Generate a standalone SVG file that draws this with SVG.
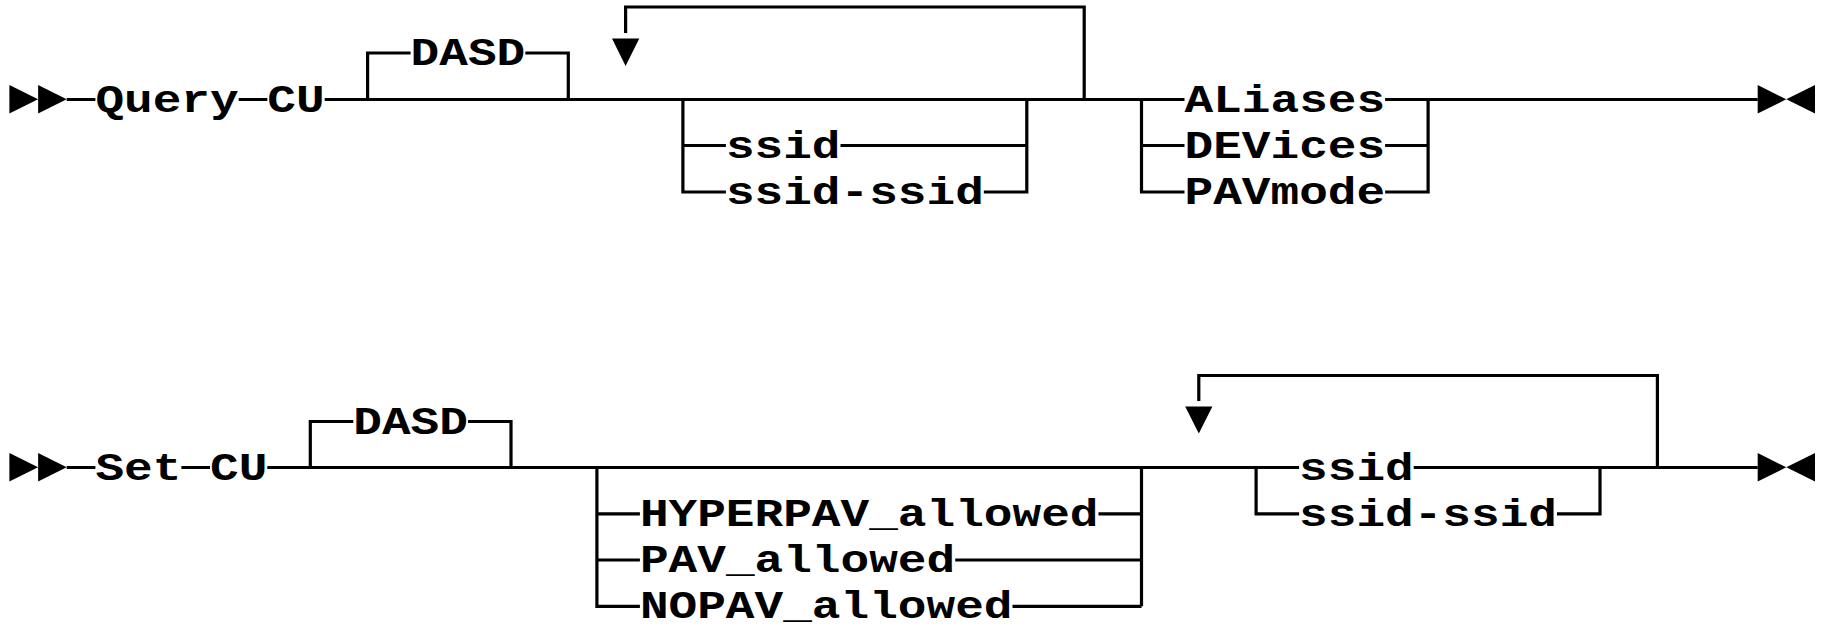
<svg xmlns="http://www.w3.org/2000/svg" width="1828" height="630" viewBox="0 0 1828 630">
<style>
.t{font-family:"Liberation Mono","Courier New",monospace;font-weight:bold;font-size:39px;fill:#000}
.c{fill:none;stroke:#000;stroke-width:3.2;stroke-linejoin:miter}
.a{fill:#000;stroke:none}
</style>
<rect width="1828" height="630" fill="#fff"/>
<g id="connectors">
  <path class="c" d="M66.7,99.5H95.4M238.7,99.5H267.3M324.7,99.5H1184.5M1385.1,99.5H1757.7"/>
  <path class="c" d="M367.6,99.5V53H410.6M525.3,53H568.3V99.5"/>
  <path class="c" d="M625.6,33V7H1084.2V99.5"/>
  <path class="c" d="M682.9,99.5V192H725.9M682.9,145.5H725.9M840.5,145.5H1026.8M983.8,192H1026.8V99.5"/>
  <path class="c" d="M1141.5,99.5V192H1184.5M1141.5,145.5H1184.5M1385.1,145.5H1428.1M1385.1,192H1428.1V99.5"/>
  <path class="c" d="M66.7,467.5H95.4M181.4,467.5H210M267.3,467.5H1299.1M1413.7,467.5H1757.7"/>
  <path class="c" d="M310.3,467.5V421.5H353.3M468,421.5H511V467.5"/>
  <path class="c" d="M596.9,467.5V606.3H639.9M596.9,513.8H639.9M596.9,560H639.9M1098.5,513.8H1141.5M955.2,560H1141.5M1012.5,606.3H1141.5M1141.5,467.5V606.3"/>
  <path class="c" d="M1198.8,401V375.5H1657.4V467.5"/>
  <path class="c" d="M1256.1,467.5V513.8H1299.1M1557,513.8H1600V467.5"/>
  <polygon class="a" points="9.4,85 38.1,99.3 9.4,113.5"/>
  <polygon class="a" points="38.1,85 66.7,99.3 38.1,113.5"/>
  <polygon class="a" points="1757.7,85 1786.3,99.3 1757.7,113.5"/>
  <polygon class="a" points="1815,85 1786.3,99.3 1815,113.5"/>
  <polygon class="a" points="612,38.5 639.3,38.5 625.6,66"/>
  <polygon class="a" points="9.4,453 38.1,467.3 9.4,481.5"/>
  <polygon class="a" points="38.1,453 66.7,467.3 38.1,481.5"/>
  <polygon class="a" points="1757.7,453 1786.3,467.3 1757.7,481.5"/>
  <polygon class="a" points="1815,453 1786.3,467.3 1815,481.5"/>
  <polygon class="a" points="1185.2,406.5 1212.4,406.5 1198.8,433.5"/>
</g>
<g id="n-query"><text class="t" x="95.4" y="111.5" textLength="143.3" lengthAdjust="spacingAndGlyphs">Query</text></g>
<g id="n-cu1"><text class="t" x="267.3" y="111.5" textLength="57.3" lengthAdjust="spacingAndGlyphs">CU</text></g>
<g id="n-dasd1"><text class="t" x="410.6" y="65" textLength="114.6" lengthAdjust="spacingAndGlyphs">DASD</text></g>
<g id="n-ssid1"><text class="t" x="725.9" y="157.5" textLength="114.6" lengthAdjust="spacingAndGlyphs">ssid</text></g>
<g id="n-ssidrange1"><text class="t" x="725.9" y="204" textLength="257.9" lengthAdjust="spacingAndGlyphs">ssid-ssid</text></g>
<g id="n-aliases"><text class="t" x="1184.5" y="111.5" textLength="200.6" lengthAdjust="spacingAndGlyphs">ALiases</text></g>
<g id="n-devices"><text class="t" x="1184.5" y="157.5" textLength="200.6" lengthAdjust="spacingAndGlyphs">DEVices</text></g>
<g id="n-pavmode"><text class="t" x="1184.5" y="204" textLength="200.6" lengthAdjust="spacingAndGlyphs">PAVmode</text></g>
<g id="n-set"><text class="t" x="95.4" y="479.5" textLength="86" lengthAdjust="spacingAndGlyphs">Set</text></g>
<g id="n-cu2"><text class="t" x="210" y="479.5" textLength="57.3" lengthAdjust="spacingAndGlyphs">CU</text></g>
<g id="n-dasd2"><text class="t" x="353.3" y="433.5" textLength="114.6" lengthAdjust="spacingAndGlyphs">DASD</text></g>
<g id="n-hyperpav"><text class="t" x="639.9" y="525.8" textLength="458.6" lengthAdjust="spacingAndGlyphs">HYPERPAV_allowed</text></g>
<g id="n-pav"><text class="t" x="639.9" y="572" textLength="315.3" lengthAdjust="spacingAndGlyphs">PAV_allowed</text></g>
<g id="n-nopav"><text class="t" x="639.9" y="618.3" textLength="372.6" lengthAdjust="spacingAndGlyphs">NOPAV_allowed</text></g>
<g id="n-ssid2"><text class="t" x="1299.1" y="479.5" textLength="114.6" lengthAdjust="spacingAndGlyphs">ssid</text></g>
<g id="n-ssidrange2"><text class="t" x="1299.1" y="525.8" textLength="257.9" lengthAdjust="spacingAndGlyphs">ssid-ssid</text></g>
</svg>
